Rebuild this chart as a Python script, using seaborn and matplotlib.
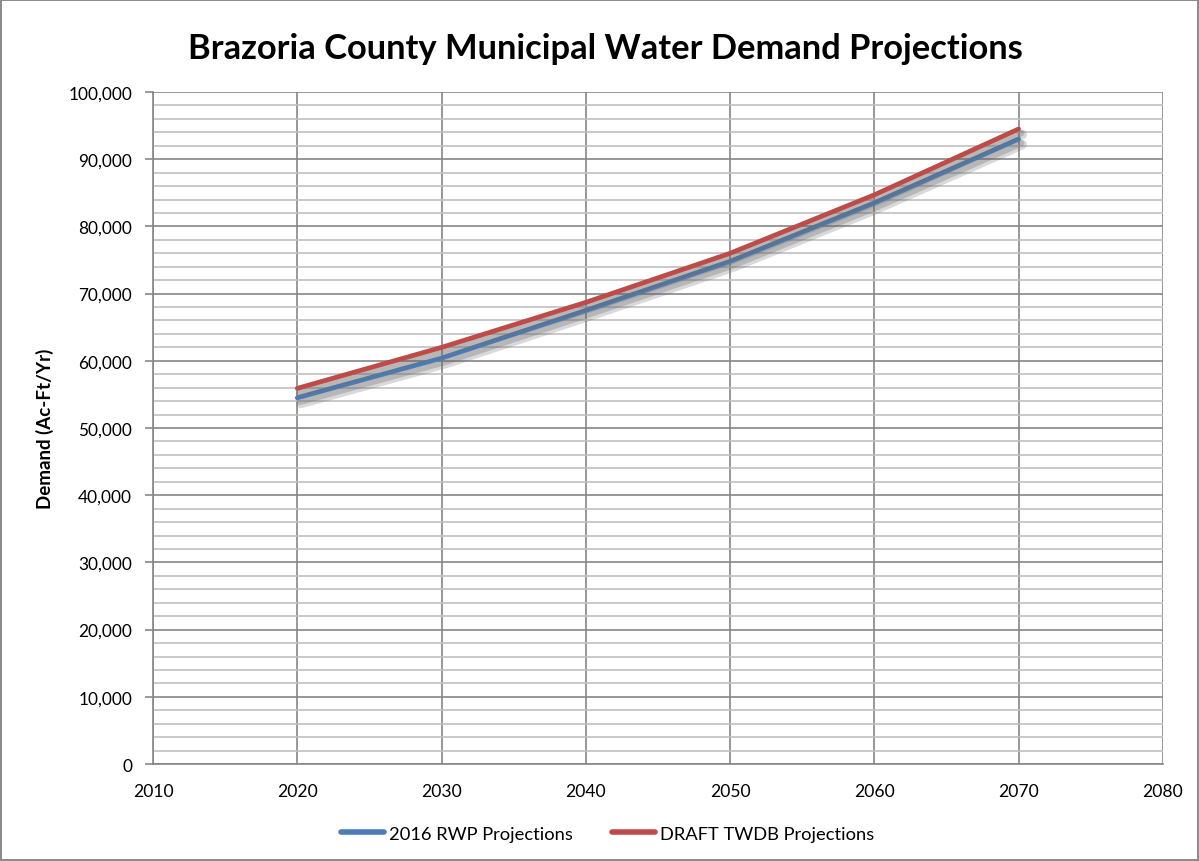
import matplotlib
matplotlib.use("Agg")
import matplotlib.pyplot as plt
import matplotlib.patheffects as pe
from matplotlib.ticker import MultipleLocator, FuncFormatter
import seaborn as sns
import pandas as pd

years = [2020, 2030, 2040, 2050, 2060, 2070]
rwp_2016 = [54500, 60400, 67500, 74800, 83500, 93000]
draft_twdb = [55900, 62000, 68700, 76000, 84700, 94500]
series_names = ["2016 RWP Projections", "DRAFT TWDB Projections"]
series_colors = ["#4A7EBB", "#BE4B48"]

df = pd.concat([
    pd.DataFrame({"Year": years, "Demand": rwp_2016, "Series": series_names[0]}),
    pd.DataFrame({"Year": years, "Demand": draft_twdb, "Series": series_names[1]}),
])

sns.set_theme(style="white")
plt.rcParams["font.family"] = ["Lato", "DejaVu Sans"]
plt.rcParams["text.color"] = "black"
plt.rcParams["axes.labelcolor"] = "black"

fig = plt.figure(figsize=(11.99, 8.62), dpi=100)
fig.patch.set_edgecolor("#8c8c8c")
fig.patch.set_linewidth(1.5)
ax = fig.add_axes([0.1276, 0.1125, 0.8423, 0.7796])

sns.lineplot(data=df, x="Year", y="Demand", hue="Series", palette=series_colors,
             linewidth=3.4, ax=ax, legend=True, zorder=5)

# soft drop shadow beneath each line
shadow = [pe.SimpleLineShadow(offset=(2.5, -4), shadow_color="#6a6a6a", alpha=0.25, linewidth=7),
          pe.SimpleLineShadow(offset=(2, -3), shadow_color="#6a6a6a", alpha=0.3, linewidth=4.5),
          pe.Normal()]
for line in ax.get_lines():
    line.set_path_effects(shadow)
    line.set_solid_capstyle("round")

ax.set_xlim(2010, 2080)
ax.set_ylim(0, 100000)
ax.xaxis.set_major_locator(MultipleLocator(10))
ax.yaxis.set_major_locator(MultipleLocator(10000))
ax.yaxis.set_minor_locator(MultipleLocator(2000))
ax.yaxis.set_major_formatter(FuncFormatter(lambda v, p: f"{int(v):,}"))

ax.grid(which="major", axis="both", color="#868686", linewidth=1.2, zorder=0)
ax.grid(which="minor", axis="y", color="#c0c0c0", linewidth=1.2, zorder=0)
ax.set_axisbelow(True)

for side in ["top", "right"]:
    ax.spines[side].set_visible(False)
for side in ["left", "bottom"]:
    ax.spines[side].set_color("#868686")
    ax.spines[side].set_linewidth(1.2)

ax.tick_params(axis="y", which="major", left=True, length=6, width=1.2, color="#868686",
               labelsize=12.4, pad=9, labelcolor="black")
ax.tick_params(axis="y", which="minor", left=False)
ax.tick_params(axis="x", which="major", bottom=False, labelsize=12.6, pad=8, labelcolor="black")

ax.set_xlabel("")
ax.set_ylabel("Demand (Ac-Ft/Yr)", fontsize=13.5, fontweight="bold", labelpad=10)

fig.suptitle("Brazoria County Municipal Water Demand Projections", x=0.505, y=0.962,
             fontsize=24.8, fontweight="bold")

handles, labels = ax.get_legend_handles_labels()
for h in handles:
    h.set_linewidth(4)
    h.set_path_effects([])
ax.legend(handles, labels, loc="center", bbox_to_anchor=(0.45, -0.104), ncol=2,
          frameon=False, fontsize=13.2, handlelength=2.35, handletextpad=0.27, columnspacing=2.1)

fig.savefig("out.png", dpi=100)
